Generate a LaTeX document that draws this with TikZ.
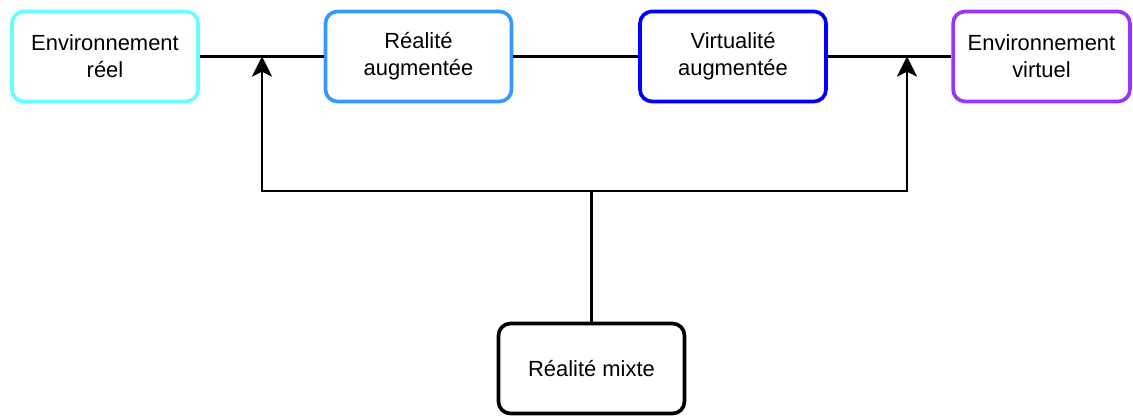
\documentclass[tikz,border=0pt]{standalone}
\usepackage{fontspec}
\setmainfont{Liberation Sans}
\usetikzlibrary{positioning,arrows.meta}
\definecolor{cyanclair}{HTML}{66FFFF}
\definecolor{bleuclair}{HTML}{3399FF}
\definecolor{bleufonce}{HTML}{0000FF}
\definecolor{violet}{HTML}{9933FF}

\begin{document}
\begin{tikzpicture}[x=0.025cm,y=-0.025cm,
  >={Stealth[length=0.5cm,width=0.5cm,inset=0.12cm]},
  bloc/.style={draw,rounded corners=0.3cm,line width=2.6pt,fill=white,
    minimum width=4.65cm,minimum height=2.25cm,align=center,
    font=\fontsize{15.6}{19.2}\selectfont},
  lien/.style={line width=2pt}]
  \useasboundingbox (0,0) rectangle (1133,418);

  % les quatre environnements
  \node[bloc,draw=cyanclair] (reel) at (105,56.5) {Environnement\\réel};
  \node[bloc,draw=bleuclair] (ra) at (418.5,56.5) {Réalité\\augmentée};
  \node[bloc,draw=bleufonce] (va) at (733,56.5) {Virtualité\\augmentée};
  \node[bloc,draw=violet,minimum width=4.42cm] (virtuel) at (1041.5,56.5) {Environnement\\virtuel};
  \node[bloc] (mixte) at (591.5,368.5) {Réalité mixte};

  \draw[lien] (reel) -- (ra) -- (va) -- (virtuel);

  % accolade vers le continuum
  \coordinate (gauche) at (262,191);
  \coordinate (droite) at (907,191);
  \draw[lien,<->] (reel.east -| gauche) -- (gauche) -- (droite) -- (va.east -| droite);
  \draw[lien] (mixte) -- (mixte |- gauche);
\end{tikzpicture}
\end{document}
